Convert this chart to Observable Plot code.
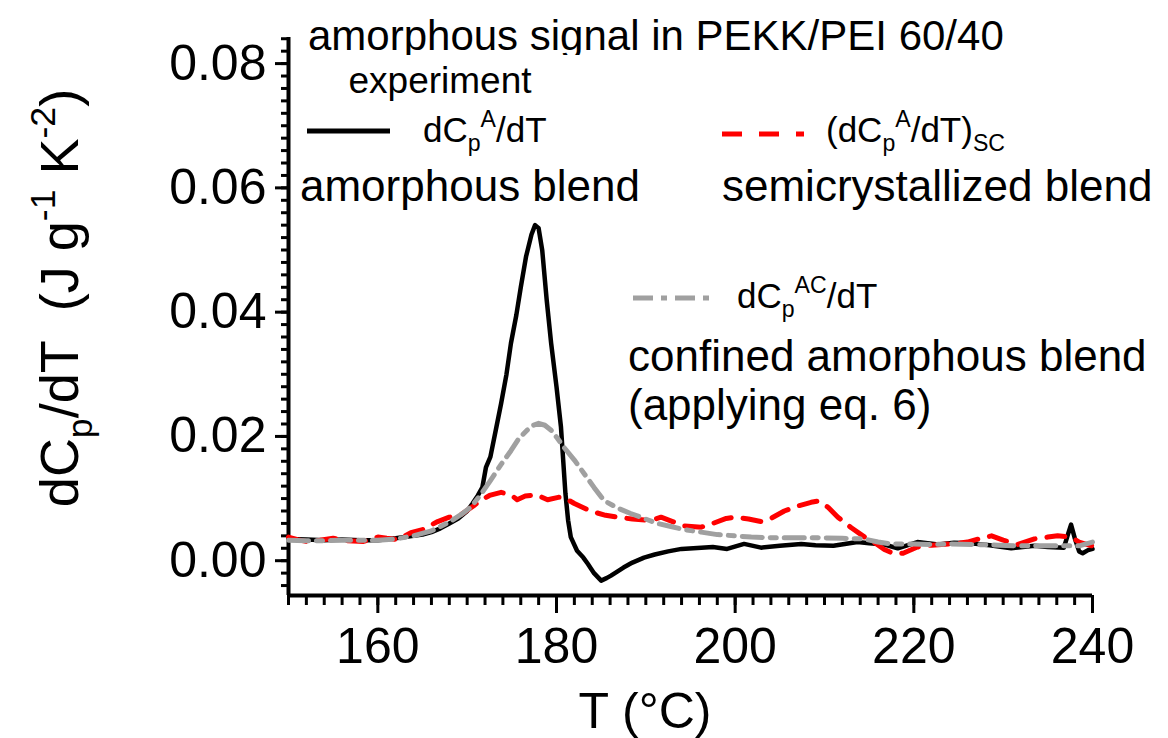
<!DOCTYPE html>
<html><head><meta charset="utf-8">
<script src="https://cdn.jsdelivr.net/npm/d3@7"></script>
<script src="https://cdn.jsdelivr.net/npm/@observablehq/plot@0.6"></script>
<style>
body{margin:0;background:#fff;}
svg{font-family:"Liberation Sans",Arial,sans-serif;}
</style></head><body><div id="chart"></div>
<script>
// amorphous blend, experiment: dCp^A/dT
const tA = [150,152,154,156,158,160,162,164,165,166,167,168,169,170,170.6,171.2,171.7,172.1,172.6,173.2,173.8,174.4,174.9,175.5,176.0,176.6,177.2,177.6,178.0,178.4,178.9,179.4,180.0,180.5,181.0,181.3,181.6,182.3,183.0,183.5,184.2,185.0,185.6,186.1,187.5,188.5,189.8,191,192.5,194,196.2,197.5,199.1,201,202.9,205,207.4,209,211,213.7,215,216.7,218.2,220.4,222.7,224.5,226.4,228.5,230.9,233.5,235,236.8,237.2,237.6,238.0,238.5,238.9,239.5,240];
const dA = [0.0035,0.0034,0.0033,0.0034,0.0033,0.0033,0.0036,0.0040,0.0042,0.0046,0.0052,0.0060,0.0068,0.0080,0.0092,0.0105,0.0118,0.0150,0.0167,0.0210,0.0253,0.0300,0.0350,0.0395,0.0440,0.0490,0.0525,0.0540,0.0535,0.0500,0.0420,0.0350,0.0280,0.0215,0.0108,0.0065,0.0038,0.0016,0.0005,-0.0005,-0.0020,-0.0032,-0.0028,-0.0024,-0.0011,-0.0003,0.0005,0.0010,0.0015,0.0019,0.0021,0.0022,0.0019,0.0027,0.0021,0.0024,0.0027,0.0025,0.0024,0.0030,0.0028,0.0026,0.0020,0.0030,0.0026,0.0029,0.0028,0.0025,0.0020,0.0024,0.0022,0.0021,0.0040,0.0058,0.0037,0.0015,0.0012,0.0017,0.0019];
// semicrystallized blend: (dCp^A/dT)_SC
const tSC = [150,151,152,153.5,155,156.5,158.4,160,161,162.2,163.7,165,166.7,168,169.3,170.7,171.5,172.5,173.8,175,175.6,176.5,177.8,179,180.2,180.8,182,183.8,185.5,186.8,188.5,190.6,191.7,193,194.3,196.2,197.5,199,199.9,201.5,202.9,204,205.5,207,208.5,209.3,210.4,211.5,213,214.5,215.7,216.7,217.8,218.8,220.4,222,224.2,226,227.5,228.7,230,231.6,233.5,235,236.1,237.6,238.5,239.9];
const dSC = [0.0038,0.0034,0.0031,0.0033,0.0036,0.0032,0.0031,0.0038,0.0036,0.0034,0.0045,0.0050,0.0063,0.0070,0.0074,0.0088,0.0097,0.0105,0.0110,0.0105,0.0098,0.0104,0.0106,0.0098,0.0102,0.0102,0.0092,0.0080,0.0073,0.0070,0.0067,0.0065,0.0070,0.0063,0.0056,0.0054,0.0060,0.0068,0.0070,0.0067,0.0063,0.0068,0.0080,0.0088,0.0094,0.0096,0.0086,0.0070,0.0053,0.0038,0.0028,0.0018,0.0011,0.0012,0.0022,0.0025,0.0027,0.0030,0.0036,0.0040,0.0033,0.0026,0.0035,0.0038,0.0040,0.0038,0.0030,0.0024];
// confined amorphous blend (eq. 6): dCp^AC/dT
const tAC = [150,152,154,156,158,160,162,164,166,168,169.3,170.4,171.5,172.6,173.8,174.9,175.8,176.7,177.4,178,178.7,179.4,180.1,180.8,182,183.1,184.2,185.3,186.8,188.3,189.8,191.3,192.8,194.3,196.2,198,200,201.8,204,206,209.2,212,214.4,216,217.5,220,222,224.2,227,229.5,231.6,234,236.5,238.5,239.5,240];
const dAC = [0.0033,0.0032,0.0032,0.0033,0.0033,0.0033,0.0035,0.0040,0.0048,0.0062,0.0074,0.0086,0.0106,0.0129,0.0155,0.0177,0.0197,0.0210,0.0218,0.0221,0.0218,0.0210,0.0197,0.0183,0.0162,0.0140,0.0118,0.0097,0.0085,0.0076,0.0068,0.0060,0.0055,0.0050,0.0046,0.0042,0.0040,0.0038,0.0037,0.0037,0.0037,0.0036,0.0035,0.0030,0.0027,0.0027,0.0026,0.0027,0.0026,0.0025,0.0024,0.0024,0.0024,0.0024,0.0028,0.0030];

const xMajor = [160,180,200,220,240];
const yMajor = [0,0.02,0.04,0.06,0.08];
const xDomain = [150,240];
const yDomain = [-0.0056,0.0842];

const rows = (t,d) => t.map((x,i) => ({T:x, v:d[i]}));
const A = rows(tA,dA), SC = rows(tSC,dSC), AC = rows(tAC,dAC);

const xMinor = d3.range(75,121).map(i => i*2);
const yMinor = d3.range(-2,43).map(i => +(i*0.002).toFixed(3));

const plot = Plot.plot({
  width:1168, height:738,
  marginLeft:288, marginRight:76, marginTop:37, marginBottom:143,
  x:{domain:xDomain, label:null},
  y:{domain:yDomain, label:null},
  style:{fontFamily:"Liberation Sans, Arial, sans-serif", background:"white", color:"black", overflow:"visible"},
  marks:[
    Plot.axisX({ticks:xMinor, tickSize:10, strokeWidth:3, text:null, label:null}),
    Plot.axisX({ticks:xMajor, tickSize:18, strokeWidth:3, fontSize:50, tickPadding:14, label:null, tickFormat:d=>String(d)}),
    Plot.axisY({ticks:yMinor, tickSize:7, strokeWidth:3, text:null, label:null}),
    Plot.axisY({ticks:yMajor, tickSize:13, strokeWidth:3, fontSize:50, tickPadding:9, label:null, tickFormat:d3.format(".2f")}),
    Plot.ruleX([xDomain[0]], {strokeWidth:4}),
    Plot.ruleY([yDomain[0]], {strokeWidth:4}),
    Plot.line(A, {x:"T", y:"v", stroke:"black", strokeWidth:4.5}),
    Plot.line(SC, {x:"T", y:"v", stroke:"#ff0000", strokeWidth:5, strokeDasharray:"18,12"}),
    Plot.line(AC, {x:"T", y:"v", stroke:"#a0a0a0", strokeWidth:5, strokeDasharray:"20,8,6,8"})
  ]
});
document.getElementById("chart").appendChild(plot);

const svg = d3.select(plot);
function rich(x, y, parts, size, opts={}) {
  const t = svg.append("text").attr("x", x).attr("y", y)
    .attr("font-size", size).attr("fill", "black")
    .attr("text-anchor", opts.anchor || "start");
  if (opts.rotate) t.attr("transform", `rotate(${opts.rotate},${x},${y})`);
  let shift = 0;
  const small = size*0.66;
  for (const [s, k] of parts) {
    let target = 0, fs = size;
    if (k === "sub") { target = size*0.25; fs = small; }
    if (k === "sup") { target = -size*0.42; fs = small; }
    t.append("tspan").attr("dy", target - shift).attr("font-size", fs).text(s);
    shift = target;
  }
  return t;
}
function sample(x1, x2, y, stroke, width, dash) {
  svg.append("line").attr("x1", x1).attr("x2", x2).attr("y1", y).attr("y2", y)
    .attr("stroke", stroke).attr("stroke-width", width).attr("stroke-dasharray", dash || null);
}

// axis titles
rich(645, 728, [["T (°C)"]], 50, {anchor:"middle"});
rich(78, 298, [["dC"],["p","sub"],["/dT  (J g"],["-1","sup"],[" K"],["-2","sup"],[")"]], 54, {anchor:"middle", rotate:-90});

// legend
svg.append("clipPath").attr("id", "titleclip").append("rect")
  .attr("x", 0).attr("y", 0).attr("width", 1168).attr("height", 55);
rich(308, 50, [["amorphous signal in PEKK/PEI 60/40"]], 42).attr("clip-path", "url(#titleclip)");
rich(440, 93, [["experiment"]], 37, {anchor:"middle"});
sample(307, 390, 131, "black", 5);
rich(423, 142, [["dC"],["p","sub"],["A","sup"],["/dT"]], 35);
rich(300, 201, [["amorphous blend"]], 44);
sample(722, 804, 134, "#ff0000", 5, "20,17");
rich(826, 142, [["(dC"],["p","sub"],["A","sup"],["/dT)"],["SC","sub"]], 35);
rich(722, 201, [["semicrystallized blend"]], 44);
sample(633, 717, 298, "#a0a0a0", 5, "20,8,6,8");
rich(737, 308, [["dC"],["p","sub"],["AC","sup"],["/dT"]], 35);
rich(628, 371, [["confined amorphous blend"]], 44);
rich(628, 420, [["(applying eq. 6)"]], 44);
</script></body></html>
